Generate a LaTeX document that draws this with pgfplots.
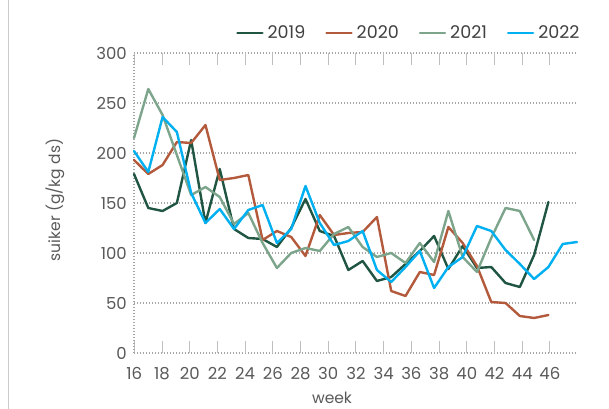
\documentclass[border=0pt]{standalone}
\usepackage{fontspec}
\setmainfont{Poppins}
\usepackage{pgfplots}
\pgfplotsset{compat=1.18}
\definecolor{c19}{HTML}{1F5541}
\definecolor{c20}{HTML}{B35A3C}
\definecolor{c21}{HTML}{7DA58C}
\definecolor{c22}{HTML}{00B0F0}
\definecolor{txt}{HTML}{595959}
\definecolor{leg}{HTML}{404040}
\definecolor{grd}{HTML}{A6A6A6}
\begin{document}
\begin{tikzpicture}
\useasboundingbox (-134bp,-56bp) rectangle (475bp,353bp);
\draw[color=black!20, line width=1bp] (-125bp,-56bp) -- (-125bp,353bp);
\begin{axis}[
 at={(0,0)}, anchor=south west, scale only axis, width=443bp, height=300bp,
 xmin=16, xmax=47, ymin=0, ymax=300,
 axis line style={draw=none},
 ytick={0,50,...,300}, ymajorgrids,
 grid style={grd, line width=1.1bp, dash pattern=on 1.3bp off 1.7bp},
 xtick={16.02,17.96,19.90,21.84,23.78,25.71,27.65,29.59,31.53,33.47,35.41,37.35,39.29,41.23,43.17,45.10},
 xticklabels={16,18,20,22,24,26,28,30,32,34,36,38,40,42,44,46},
 tick align=inside, major tick length=12bp,
 xtick style={draw=black!25, line width=1bp},
 ytick style={draw=none},
 every tick label/.append style={font=\fontsize{16.5bp}{19bp}\selectfont, text=txt, inner sep=0pt},
 xticklabel style={yshift=-14bp},
 yticklabel style={xshift=-7bp},
 /pgf/number format/assume math mode=true,
 xlabel={week}, ylabel={suiker (g/kg ds)},
 label style={font=\fontsize{15.5bp}{18bp}\selectfont, text=txt},
 xlabel style={at={(axis description cs:0.447,0)}, anchor=center, yshift=-45bp},
 ylabel style={at={(axis description cs:-0.1783,0.51)}, anchor=center},
 legend columns=4,
 legend style={draw=none, fill=none, at={(axis description cs:0.2303,1.0667)}, anchor=west, inner sep=0pt,
   font=\fontsize{17.5bp}{20bp}\selectfont, text=leg, nodes={inner sep=0pt},
   /tikz/every odd column/.append style={column sep=4bp},
   /tikz/every even column/.append style={column sep=20bp}},
 legend image code/.code={\draw[#1] (0bp,0bp) -- (25bp,0bp);},
 every axis plot/.append style={line width=2.4bp, line join=round, line cap=round, mark=none},
 clip=false,
]
\draw[grd, line width=1.1bp, dash pattern=on 1.3bp off 1.7bp] (rel axis cs:0,0) -- (rel axis cs:0,1);
\addplot[c19] coordinates {(16,179)(17,145)(18,142)(19,150)(20,213)(21,130)(22,184)(23,124)(24,115)(25,114)(26,106)(27,125)(28,154)(29,122)(30,117)(31,83)(32,92)(33,72)(34,76)(35,89)(36,102)(37,117)(38,84)(39,107)(40,85)(41,86)(42,70)(43,66)(44,98)(45,151)};
\addlegendentry{2019}
\addplot[c20] coordinates {(16,193)(17,179)(18,188)(19,211)(20,210)(21,228)(22,173)(23,175)(24,178)(25,113)(26,122)(27,116)(28,97)(29,138)(30,118)(31,120)(32,121)(33,136)(34,62)(35,57)(36,81)(37,78)(38,126)(39,110)(40,87)(41,51)(42,50)(43,37)(44,35)(45,38)};
\addlegendentry{2020}
\addplot[c21] coordinates {(16,215)(17,264)(18,238)(19,198)(20,158)(21,166)(22,156)(23,129)(24,140)(25,110)(26,85)(27,100)(28,105)(29,102)(30,119)(31,126)(32,106)(33,96)(34,100)(35,90)(36,110)(37,91)(38,142)(39,96)(40,81)(41,115)(42,145)(43,142)(44,113)};
\addlegendentry{2021}
\addplot[c22] coordinates {(16,202)(17,181)(18,236)(19,221)(20,160)(21,130)(22,144)(23,124)(24,143)(25,148)(26,110)(27,124)(28,167)(29,130)(30,108)(31,112)(32,122)(33,83)(34,71)(35,86)(36,102)(37,65)(38,86)(39,96)(40,127)(41,122)(42,103)(43,89)(44,74)(45,86)(46,109)(47,111)};
\addlegendentry{2022}
\end{axis}
\end{tikzpicture}
\end{document}
